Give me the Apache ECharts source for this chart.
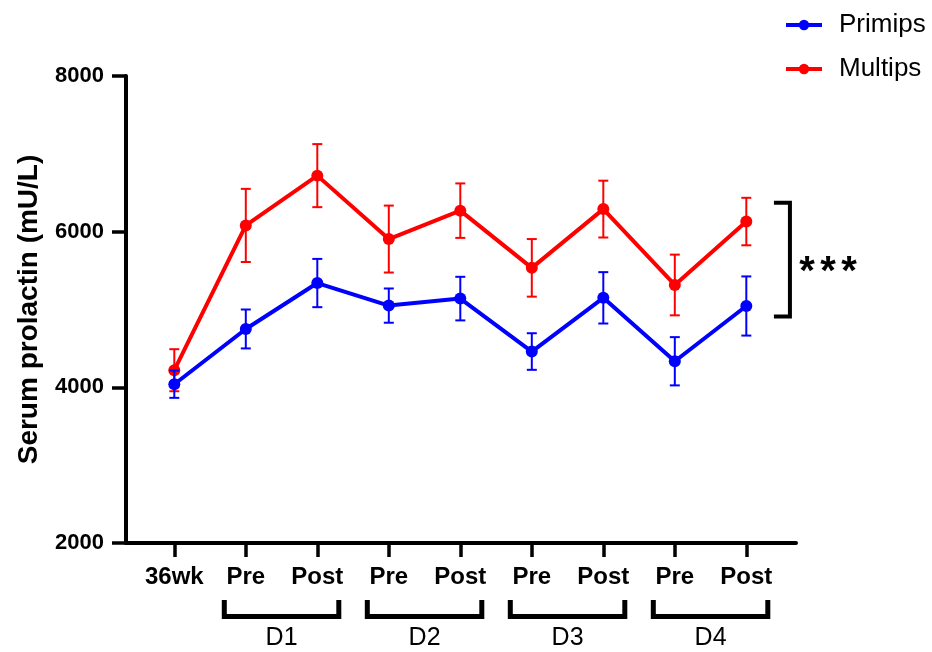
<!DOCTYPE html>
<html>
<head>
<meta charset="utf-8">
<script src="https://cdn.jsdelivr.net/npm/echarts@6/dist/echarts.min.js"></script>
<style>
  html, body { margin: 0; padding: 0; background: #fff; }
  #chart { width: 932px; height: 652px; }
</style>
</head>
<body>
<div id="chart"></div>
<script>
// Time points along the x axis
const categories = ['36wk', 'Pre', 'Post', 'Pre', 'Post', 'Pre', 'Post', 'Pre', 'Post'];

// Serum prolactin, mean and SEM (mU/L)
const primipsMean = [4040, 4750, 5340, 5050, 5140, 4460, 5150, 4335, 5045];
const primipsSem  = [175, 250, 310, 220, 280, 235, 330, 310, 380];
const multipsMean = [4220, 6080, 6720, 5905, 6270, 5535, 6290, 5315, 6130];
const multipsSem  = [270, 470, 405, 430, 350, 370, 365, 390, 305];

// Day groupings under the axis: label and index of the "Pre" point
const dayLabels = ['D1', 'D2', 'D3', 'D4'];
const dayFirstIndex = [1, 3, 5, 7];

const BLUE = '#0000ff';
const RED = '#ff0000';
const FONT = 'Liberation Sans, Arial, Helvetica, sans-serif';

const chart = echarts.init(document.getElementById('chart'), null, { renderer: 'canvas' });

function errorBarSeries(name, color, means, sems, z) {
  return {
    name: name,
    type: 'custom',
    z: z,
    silent: true,
    clip: false,
    itemStyle: { color: color },
    data: means.map((m, i) => [i, m - sems[i], m + sems[i]]),
    encode: { x: 0, y: [1, 2] },
    renderItem: function (params, api) {
      const x = api.value(0);
      const lo = api.coord([x, api.value(1)]);
      const hi = api.coord([x, api.value(2)]);
      const half = 5;
      const style = { stroke: color, lineWidth: 2 };
      return {
        type: 'group',
        children: [
          { type: 'line', shape: { x1: lo[0], y1: lo[1], x2: hi[0], y2: hi[1] }, style: style },
          { type: 'line', shape: { x1: lo[0] - half, y1: lo[1], x2: lo[0] + half, y2: lo[1] }, style: style },
          { type: 'line', shape: { x1: hi[0] - half, y1: hi[1], x2: hi[0] + half, y2: hi[1] }, style: style }
        ]
      };
    }
  };
}

// Brackets grouping Pre/Post pairs into days, drawn below the axis labels
const dayBracketSeries = {
  name: 'days',
  type: 'custom',
  silent: true,
  clip: false,
  itemStyle: { color: '#000' },
  data: dayFirstIndex.map((s, i) => [s, s + 1, i]),
  encode: { x: [0, 1] },
  renderItem: function (params, api) {
    const p1 = api.coord([api.value(0), 2000]);
    const p2 = api.coord([api.value(1), 2000]);
    const y0 = p1[1];
    const xl = p1[0] - 21.5;
    const xr = p2[0] + 21.5;
    return {
      type: 'group',
      children: [
        {
          type: 'polyline',
          shape: { points: [[xl, y0 + 57], [xl, y0 + 73.5], [xr, y0 + 73.5], [xr, y0 + 57]] },
          style: { stroke: '#000', lineWidth: 5, fill: null, lineJoin: 'miter' }
        },
        {
          type: 'text',
          x: (p1[0] + p2[0]) / 2,
          y: y0 + 95,
          style: {
            text: dayLabels[api.value(2)],
            fill: '#000',
            fontSize: 25, fontFamily: FONT, fontWeight: 'normal',
            align: 'center', verticalAlign: 'middle'
          }
        }
      ]
    };
  }
};

// Significance bracket between the two groups
const sigBracket = { x: 8.61, from: 4910, to: 6370, label: '***' };
const sigSeries = {
  name: 'significance',
  type: 'custom',
  silent: true,
  clip: false,
  itemStyle: { color: '#000' },
  data: [[sigBracket.x, sigBracket.from, sigBracket.to]],
  encode: { x: 0, y: [1, 2] },
  renderItem: function (params, api) {
    const top = api.coord([api.value(0), api.value(2)]);
    const bot = api.coord([api.value(0), api.value(1)]);
    const arm = 16;
    const midY = (top[1] + bot[1]) / 2;
    const stars = [];
    for (let k = 0; k < sigBracket.label.length; k++) {
      stars.push({
        type: 'text',
        x: top[0] + 17 + k * 21,
        y: midY + 13,
        style: {
          text: sigBracket.label[k], fill: '#000',
          fontSize: 40, fontWeight: 'bold', fontFamily: FONT,
          align: 'center', verticalAlign: 'middle'
        }
      });
    }
    return {
      type: 'group',
      children: [
        {
          type: 'polyline',
          shape: { points: [[top[0] - arm, top[1]], [top[0], top[1]], [bot[0], bot[1]], [bot[0] - arm, bot[1]]] },
          style: { stroke: '#000', lineWidth: 4, fill: null, lineJoin: 'miter' }
        }
      ].concat(stars)
    };
  }
};

const option = {
  animation: false,
  backgroundColor: '#fff',
  grid: { left: 126, right: 136, top: 76, bottom: 109, containLabel: false },
  legend: {
    data: ['Primips', 'Multips'],
    orient: 'vertical',
    left: 779,
    top: 5,
    itemWidth: 36,
    itemHeight: 13,
    itemGap: 14,
    lineStyle: { width: 4 },
    textStyle: {
      fontFamily: FONT, fontSize: 26, color: '#000',
      lineHeight: 30, padding: [0, 0, 0, 12]
    }
  },
  xAxis: {
    type: 'value',
    min: -0.6755,
    max: 8.695,
    splitLine: { show: false },
    axisLine: { show: true, onZero: false, lineStyle: { color: '#000', width: 4 } },
    axisTick: {
      show: true, length: 14,
      customValues: categories.map((c, i) => i),
      lineStyle: { color: '#000', width: 3.5 }
    },
    axisLabel: {
      customValues: categories.map((c, i) => i),
      formatter: v => categories[Math.round(v)],
      margin: 22,
      color: '#000', fontFamily: FONT, fontWeight: 'bold', fontSize: 24
    }
  },
  yAxis: {
    type: 'value',
    min: 2000,
    max: 8000,
    interval: 2000,
    name: 'Serum prolactin (mU/L)',
    nameLocation: 'middle',
    nameGap: 83,
    nameTextStyle: { fontFamily: FONT, fontWeight: 'bold', fontSize: 28, color: '#000' },
    splitLine: { show: false },
    axisLine: { show: true, onZero: false, lineStyle: { color: '#000', width: 4 } },
    axisTick: { show: true, length: 14, lineStyle: { color: '#000', width: 3.5 } },
    axisLabel: {
      margin: 22, color: '#000', fontFamily: FONT, fontWeight: 'bold', fontSize: 22,
      formatter: v => String(v)
    }
  },
  series: [
    {
      name: 'Primips',
      type: 'line',
      z: 5,
      data: primipsMean.map((v, i) => [i, v]),
      symbol: 'circle',
      symbolSize: 12,
      lineStyle: { color: BLUE, width: 4 },
      itemStyle: { color: BLUE }
    },
    {
      name: 'Multips',
      type: 'line',
      z: 3,
      data: multipsMean.map((v, i) => [i, v]),
      symbol: 'circle',
      symbolSize: 12,
      lineStyle: { color: RED, width: 4 },
      itemStyle: { color: RED }
    },
    errorBarSeries('Multips SEM', RED, multipsMean, multipsSem, 2),
    errorBarSeries('Primips SEM', BLUE, primipsMean, primipsSem, 4),
    dayBracketSeries,
    sigSeries
  ]
};

chart.setOption(option);
</script>
</body>
</html>
